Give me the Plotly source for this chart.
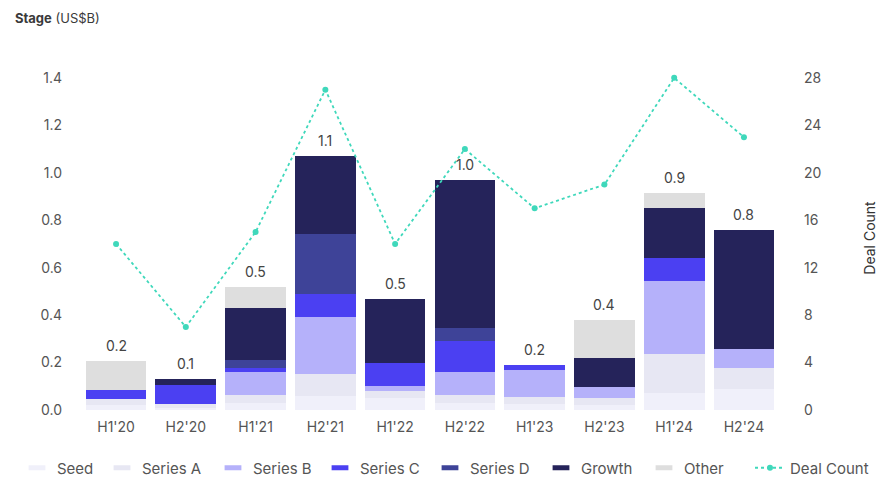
import plotly.graph_objects as go

# Half-year periods
periods = ["H1'20", "H2'20", "H1'21", "H2'21", "H1'22", "H2'22", "H1'23", "H2'23", "H1'24", "H2'24"]

# Funding by stage (US$B)
seed     = [0.020, 0.010, 0.030, 0.060, 0.050, 0.030, 0.025, 0.020, 0.070, 0.090]
series_a = [0.025, 0.015, 0.033, 0.090, 0.030, 0.033, 0.030, 0.030, 0.166, 0.087]
series_b = [0.000, 0.000, 0.097, 0.240, 0.020, 0.097, 0.115, 0.047, 0.309, 0.080]
series_c = [0.040, 0.080, 0.015, 0.100, 0.100, 0.130, 0.020, 0.000, 0.095, 0.000]
series_d = [0.000, 0.000, 0.035, 0.250, 0.000, 0.055, 0.000, 0.000, 0.000, 0.000]
growth   = [0.000, 0.025, 0.220, 0.330, 0.270, 0.625, 0.000, 0.123, 0.210, 0.503]
other    = [0.120, 0.000, 0.090, 0.000, 0.000, 0.000, 0.000, 0.160, 0.066, 0.000]

# Number of deals per period
deal_count = [14, 7, 15, 27, 14, 22, 17, 19, 28, 23]

stages = [
    ("Seed", seed, "#f0f0fa"),
    ("Series A", series_a, "#e7e7f3"),
    ("Series B", series_b, "#b5b1fa"),
    ("Series C", series_c, "#4b40f2"),
    ("Series D", series_d, "#3e4398"),
    ("Growth", growth, "#25235a"),
    ("Other", other, "#dedede"),
]
line_color = "#3fd8bb"

# Left edge (px) of each legend entry along the bottom row
legend_left_px = [17, 102, 213, 320, 430, 541, 644, 750]

font_family = "Inter, Roboto, sans-serif"
tick_color = "#555555"
fs = 14
W, H = 881, 479

fig = go.Figure()

legend_ids = ["legend"] + [f"legend{i}" for i in range(2, 9)]

for i, (name, values, color) in enumerate(stages):
    fig.add_trace(go.Bar(
        x=periods, y=values, name=name, legendgroup=name, showlegend=False,
        marker=dict(color=color, line=dict(width=0)),
        hoverinfo="name+y",
    ))
    # legend key: short horizontal bar
    fig.add_trace(go.Scatter(
        x=[None], y=[None], name=name, legendgroup=name, legend=legend_ids[i],
        mode="markers",
        marker=dict(symbol="line-ew", size=12, color=color,
                    line=dict(width=5, color=color)),
        hoverinfo="skip",
    ))

fig.add_trace(go.Scatter(
    x=periods, y=deal_count, name="Deal Count", yaxis="y2", legend=legend_ids[7],
    mode="lines+markers",
    line=dict(color=line_color, width=1.8, dash="dot"),
    marker=dict(color=line_color, size=6),
))

# Totals above each stacked bar
totals = [sum(vals) for vals in zip(*[s[1] for s in stages])]
for p, t in zip(periods, totals):
    fig.add_annotation(
        x=p, y=t, text=f"{t:.1f}", showarrow=False,
        yanchor="bottom", yshift=5,
        font=dict(family=font_family, size=fs, color="#444444"),
    )

legend_style = dict(
    orientation="h", xref="container", xanchor="left",
    y=0.023, yref="container", yanchor="middle",
    font=dict(family=font_family, size=15, color=tick_color),
    itemwidth=30, bgcolor="rgba(0,0,0,0)",
)
legends = {lid: dict(x=px / W, **legend_style) for lid, px in zip(legend_ids, legend_left_px)}

fig.update_layout(
    width=W, height=H,
    barmode="stack", bargap=0.13,
    paper_bgcolor="white", plot_bgcolor="white",
    margin=dict(l=77, r=98, t=66, b=69, autoexpand=False),
    font=dict(family=font_family, size=fs, color=tick_color),
    title=dict(
        text="<b>Stage</b> (US$B)",
        x=0.017, xref="container", xanchor="left",
        y=0.962, yref="container", yanchor="middle",
        font=dict(family=font_family, size=13, color="#3a3a3a"),
    ),
    xaxis=dict(
        showgrid=False, zeroline=False, showline=False,
        ticks="", ticklabelstandoff=7,
        tickfont=dict(size=fs, color=tick_color),
    ),
    yaxis=dict(
        range=[0, 1.45], tickvals=[0, 0.2, 0.4, 0.6, 0.8, 1.0, 1.2, 1.4],
        tickformat=".1f", showgrid=False, zeroline=False, showline=False,
        ticks="", ticklabelstandoff=14,
        tickfont=dict(size=fs, color=tick_color),
    ),
    yaxis2=dict(
        overlaying="y", side="right",
        range=[0, 29], tickvals=[0, 4, 8, 12, 16, 20, 24, 28],
        showgrid=False, zeroline=False, showline=False,
        ticks="", ticklabelstandoff=20,
        tickfont=dict(size=fs, color=tick_color),
        title=dict(text="Deal Count", standoff=44,
                   font=dict(size=fs, color="#333333")),
    ),
    showlegend=True,
    **legends,
)

fig.write_html("out.html")
